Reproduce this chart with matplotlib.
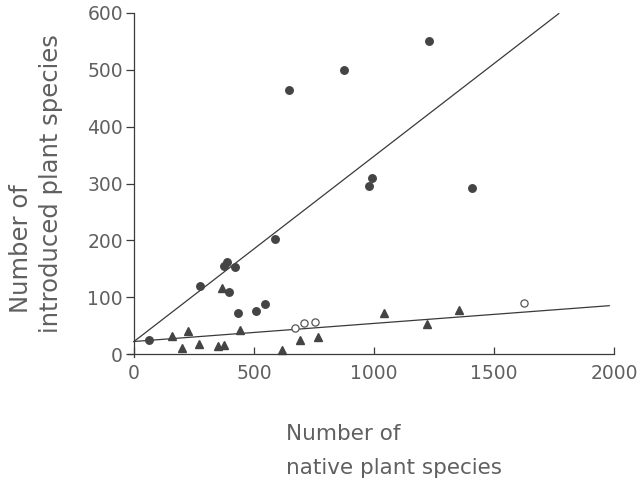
import matplotlib.pyplot as plt

# filled circles
circ_x = [64, 275, 376, 387, 422, 394, 435, 510, 546, 589, 647, 876, 979, 993, 1231, 1408]
circ_y = [25, 119, 154, 162, 153, 109, 73, 75, 88, 203, 464, 499, 296, 309, 551, 292]

# open circles
open_x = [671, 707, 756, 1625]
open_y = [45, 54, 56, 89]

# filled triangles
tri_x = [160, 225, 201, 271, 351, 375, 365, 442, 617, 690, 767, 1042, 1222, 1353]
tri_y = [32, 40, 10, 18, 14, 16, 116, 43, 7, 24, 30, 73, 53, 78]

# fitted lines (end points)
upper_x = [0, 1770]
upper_y = [22, 599]
lower_x = [0, 1980]
lower_y = [22, 85]

txt = '#606060'
ink = '#3a3a3a'
plt.rcParams['font.family'] = ['DejaVu Sans']

fig = plt.figure(figsize=(6.39, 4.83), dpi=100)
ax = fig.add_axes([134/639, 1 - 354/483, 480/639, 341/483])

ax.plot(upper_x, upper_y, color=ink, lw=0.9, clip_on=False)
ax.plot(lower_x, lower_y, color=ink, lw=0.9, clip_on=False)
ax.plot(circ_x, circ_y, 'o', ms=5.4, color='#444444', mec='#444444', clip_on=False)
ax.plot(open_x, open_y, 'o', ms=5.2, mfc='white', mec='#555555', mew=0.9, clip_on=False)
ax.plot(tri_x, tri_y, '^', ms=6.3, color='#444444', clip_on=False)

ax.set_xlim(0, 2000)
ax.set_ylim(0, 600)
ax.set_xticks([0, 500, 1000, 1500, 2000])
ax.set_yticks([0, 100, 200, 300, 400, 500, 600])
for s in ['top', 'right']:
    ax.spines[s].set_visible(False)
for s in ['left', 'bottom']:
    ax.spines[s].set_color(ink)
    ax.spines[s].set_linewidth(0.9)
ax.spines['bottom'].set_bounds(-25, 2000)
ax.spines['left'].set_bounds(-6, 600)
ax.tick_params(axis='y', direction='out', length=6, width=0.9, color=ink,
               labelsize=13.5, labelcolor=txt, pad=2)
ax.tick_params(axis='x', direction='in', length=5, width=0.9, color=ink,
               labelsize=13.5, labelcolor=txt, pad=7)

fig.text(286/639, 1 - 440/483, 'Number of', ha='left', va='baseline',
         fontsize=15.5, color=txt)
fig.text(286/639, 1 - 474/483, 'native plant species', ha='left', va='baseline',
         fontsize=15.5, color=txt)
fig.text(28/639, 1 - 313/483, 'Number of', rotation=90, rotation_mode='anchor',
         ha='left', va='baseline', fontsize=17.5, color=txt)
fig.text(58/639, 1 - 333/483, 'introduced plant species', rotation=90, rotation_mode='anchor',
         ha='left', va='baseline', fontsize=17.5, color=txt)

fig.savefig('out.png', dpi=100)
